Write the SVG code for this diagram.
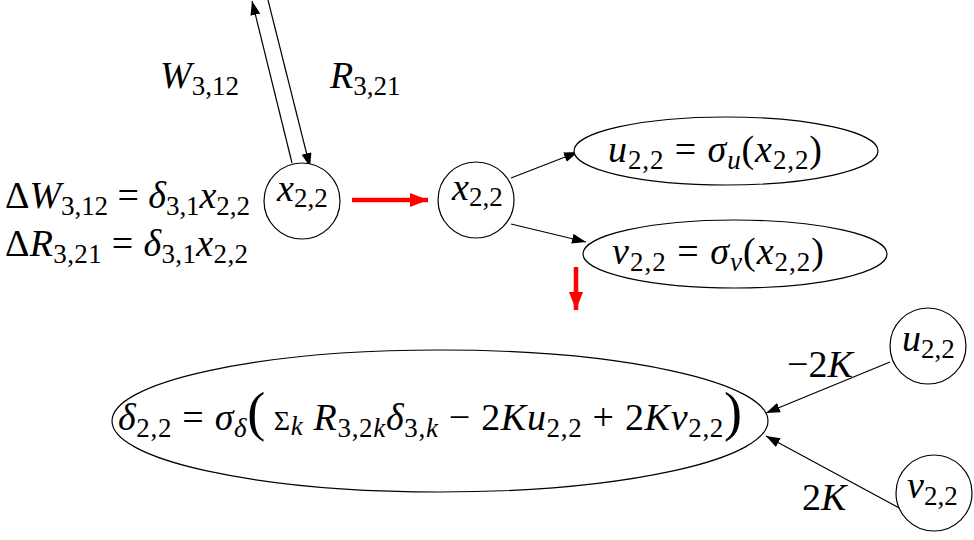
<svg xmlns="http://www.w3.org/2000/svg" width="974" height="540" viewBox="0 0 974 540">
<style>
.t{font-family:"Liberation Serif","DejaVu Serif",serif;font-size:38px;fill:#000}
.i{font-style:italic}
.s{font-size:27px}
.nd{fill:#fff;stroke:#000;stroke-width:1.2}
.e{stroke:#000;stroke-width:1.2;fill:none}
.r{stroke:#f00;stroke-width:4.5;fill:none}
</style>
<defs>
<marker id="ah" markerUnits="userSpaceOnUse" markerWidth="15" markerHeight="11" refX="14" refY="5" orient="auto"><path d="M0,0 L14,5 L0,10 z" fill="#000"/></marker>
<marker id="rh" markerUnits="userSpaceOnUse" markerWidth="19" markerHeight="15" refX="18" refY="7" orient="auto"><path d="M0,0 L18,7 L0,14 z" fill="#f00"/></marker>
</defs>
<rect width="974" height="540" fill="#fff"/>
<g id="connectors">
<line class="e" x1="292" y1="163" x2="252" y2="1" marker-end="url(#ah)"/>
<line class="e" x1="268" y1="0" x2="310" y2="167" marker-end="url(#ah)"/>
<line class="r" x1="352" y1="200" x2="428" y2="200" marker-end="url(#rh)"/>
<line class="e" x1="511" y1="178" x2="578" y2="152" marker-end="url(#ah)"/>
<line class="e" x1="511" y1="224" x2="586" y2="242" marker-end="url(#ah)"/>
<line class="r" x1="576" y1="267" x2="576" y2="310" marker-end="url(#rh)"/>
<line class="e" x1="890" y1="362" x2="766" y2="413" marker-end="url(#ah)"/>
<line class="e" x1="903" y1="510" x2="766" y2="436" marker-end="url(#ah)"/>
</g>
<g id="labels">
<text class="t" x="160" y="88"><tspan class="i">W</tspan><tspan class="s" dy="7">3,12</tspan></text>
<text class="t" x="330" y="88"><tspan class="i">R</tspan><tspan class="s" dy="7">3,21</tspan></text>
<text class="t" x="5" y="208" textLength="245" lengthAdjust="spacing">Δ<tspan class="i">W</tspan><tspan class="s" dy="7">3,12</tspan><tspan dy="-7"> = </tspan><tspan class="i">δ</tspan><tspan class="s" dy="7">3,1</tspan><tspan class="i" dy="-7">x</tspan><tspan class="s" dy="7">2,2</tspan></text>
<text class="t" x="5" y="256" textLength="243" lengthAdjust="spacing">Δ<tspan class="i">R</tspan><tspan class="s" dy="7">3,21</tspan><tspan dy="-7"> = </tspan><tspan class="i">δ</tspan><tspan class="s" dy="7">3,1</tspan><tspan class="i" dy="-7">x</tspan><tspan class="s" dy="7">2,2</tspan></text>
<text class="t" x="787" y="377">−2<tspan class="i">K</tspan></text>
<text class="t" x="802" y="510">2<tspan class="i">K</tspan></text>
</g>
<g id="n1">
<circle class="nd" cx="302" cy="201" r="38"/>
<text class="t" x="277" y="201"><tspan class="i">x</tspan><tspan class="s" dy="6">2,2</tspan></text>
</g>
<g id="n2">
<circle class="nd" cx="476" cy="200" r="38"/>
<text class="t" x="452" y="200"><tspan class="i">x</tspan><tspan class="s" dy="6">2,2</tspan></text>
</g>
<g id="nu">
<ellipse class="nd" cx="726" cy="151" rx="152" ry="34"/>
<text class="t" x="608" y="162" textLength="214" lengthAdjust="spacing"><tspan class="i">u</tspan><tspan class="s" dy="7">2,2</tspan><tspan dy="-7"> = </tspan><tspan class="i">σ</tspan><tspan class="s i" dy="7">u</tspan><tspan dy="-7">(</tspan><tspan class="i">x</tspan><tspan class="s" dy="7">2,2</tspan><tspan dy="-7">)</tspan></text>
</g>
<g id="nv">
<ellipse class="nd" cx="735" cy="254" rx="152" ry="34"/>
<text class="t" x="612" y="264" textLength="212" lengthAdjust="spacing"><tspan class="i">v</tspan><tspan class="s" dy="7">2,2</tspan><tspan dy="-7"> = </tspan><tspan class="i">σ</tspan><tspan class="s i" dy="7">v</tspan><tspan dy="-7">(</tspan><tspan class="i">x</tspan><tspan class="s" dy="7">2,2</tspan><tspan dy="-7">)</tspan></text>
</g>
<g id="nd">
<ellipse class="nd" cx="440" cy="421" rx="328" ry="71"/>
<text class="t" x="118" y="430" textLength="624" lengthAdjust="spacing"><tspan class="i">δ</tspan><tspan class="s" dy="7">2,2</tspan><tspan dy="-7"> = </tspan><tspan class="i">σ</tspan><tspan class="s i" dy="7">δ</tspan><tspan dy="-7" font-size="54">(</tspan><tspan font-size="28"> Σ</tspan><tspan class="s i" dy="5">k</tspan><tspan class="i" dy="-5"> R</tspan><tspan class="s" dy="7">3,2<tspan class="i">k</tspan></tspan><tspan class="i" dy="-7">δ</tspan><tspan class="s" dy="7">3,<tspan class="i">k</tspan></tspan><tspan dy="-7"> − 2</tspan><tspan class="i">Ku</tspan><tspan class="s" dy="7">2,2</tspan><tspan dy="-7"> + 2</tspan><tspan class="i">Kv</tspan><tspan class="s" dy="7">2,2</tspan><tspan dy="-7" font-size="54">)</tspan></text>
</g>
<g id="nu2">
<circle class="nd" cx="928" cy="346" r="38"/>
<text class="t" x="902" y="351"><tspan class="i">u</tspan><tspan class="s" dy="7">2,2</tspan></text>
</g>
<g id="nv2">
<circle class="nd" cx="934" cy="493" r="38"/>
<text class="t" x="907" y="498"><tspan class="i">v</tspan><tspan class="s" dy="7">2,2</tspan></text>
</g>
</svg>
